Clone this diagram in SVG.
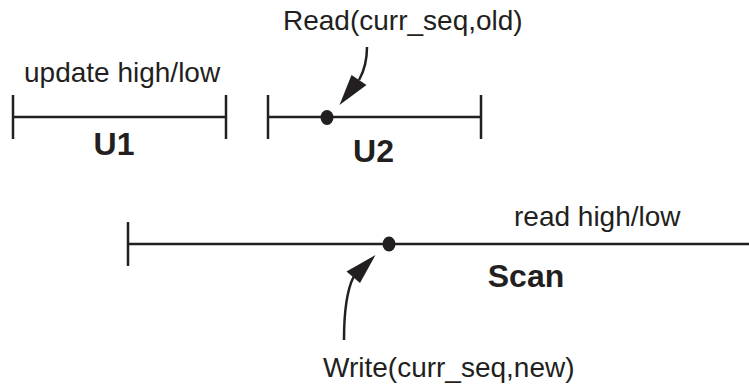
<svg xmlns="http://www.w3.org/2000/svg" width="749" height="387" viewBox="0 0 749 387">
<style>
.ln{stroke:#231f20;stroke-width:2.5;fill:none}
.dot{fill:#231f20}
.t{font-family:"Liberation Sans",Arial,sans-serif;font-size:28px;fill:#231f20}
.b{font-family:"Liberation Sans",Arial,sans-serif;font-size:32px;font-weight:bold;fill:#231f20}
.head{fill:#231f20}
</style>
<rect width="749" height="387" fill="#ffffff"/>
<g id="U1">
<line class="ln" x1="13" y1="95" x2="13" y2="139"/>
<line class="ln" x1="226" y1="95" x2="226" y2="139"/>
<line class="ln" x1="13" y1="117" x2="226" y2="117"/>
<text class="t" x="24" y="82">update high/low</text>
<text class="b" x="114" y="155" text-anchor="middle">U1</text>
</g>
<g id="U2">
<line class="ln" x1="268" y1="95" x2="268" y2="139"/>
<line class="ln" x1="481" y1="95" x2="481" y2="139"/>
<line class="ln" x1="268" y1="117" x2="481" y2="117"/>
<ellipse class="dot" cx="327" cy="117.5" rx="6.5" ry="7.5"/>
<text class="b" x="373.5" y="162" text-anchor="middle">U2</text>
</g>
<g id="Scan">
<line class="ln" x1="128" y1="222" x2="128" y2="266"/>
<line class="ln" x1="128" y1="244" x2="749" y2="244"/>
<ellipse class="dot" cx="389" cy="244" rx="6.5" ry="7.5"/>
<text class="t" x="514" y="226">read high/low</text>
<text class="b" x="526" y="287" text-anchor="middle">Scan</text>
</g>
<g id="read-label">
<text class="t" x="283" y="30">Read(curr_seq,old)</text>
</g>
<g id="write-label">
<text class="t" x="323" y="377">Write(curr_seq,new)</text>
</g>
<g id="connectors">
<path class="ln" d="M367,47 Q367,66 359,80"/>
<polygon class="head" points="351.5,75 366.5,85 339.5,105"/>
<path class="ln" d="M344,340 Q344,296 353.5,277"/>
<polygon class="head" points="346.5,271.5 360,283 375.5,255"/>
</g>
</svg>
